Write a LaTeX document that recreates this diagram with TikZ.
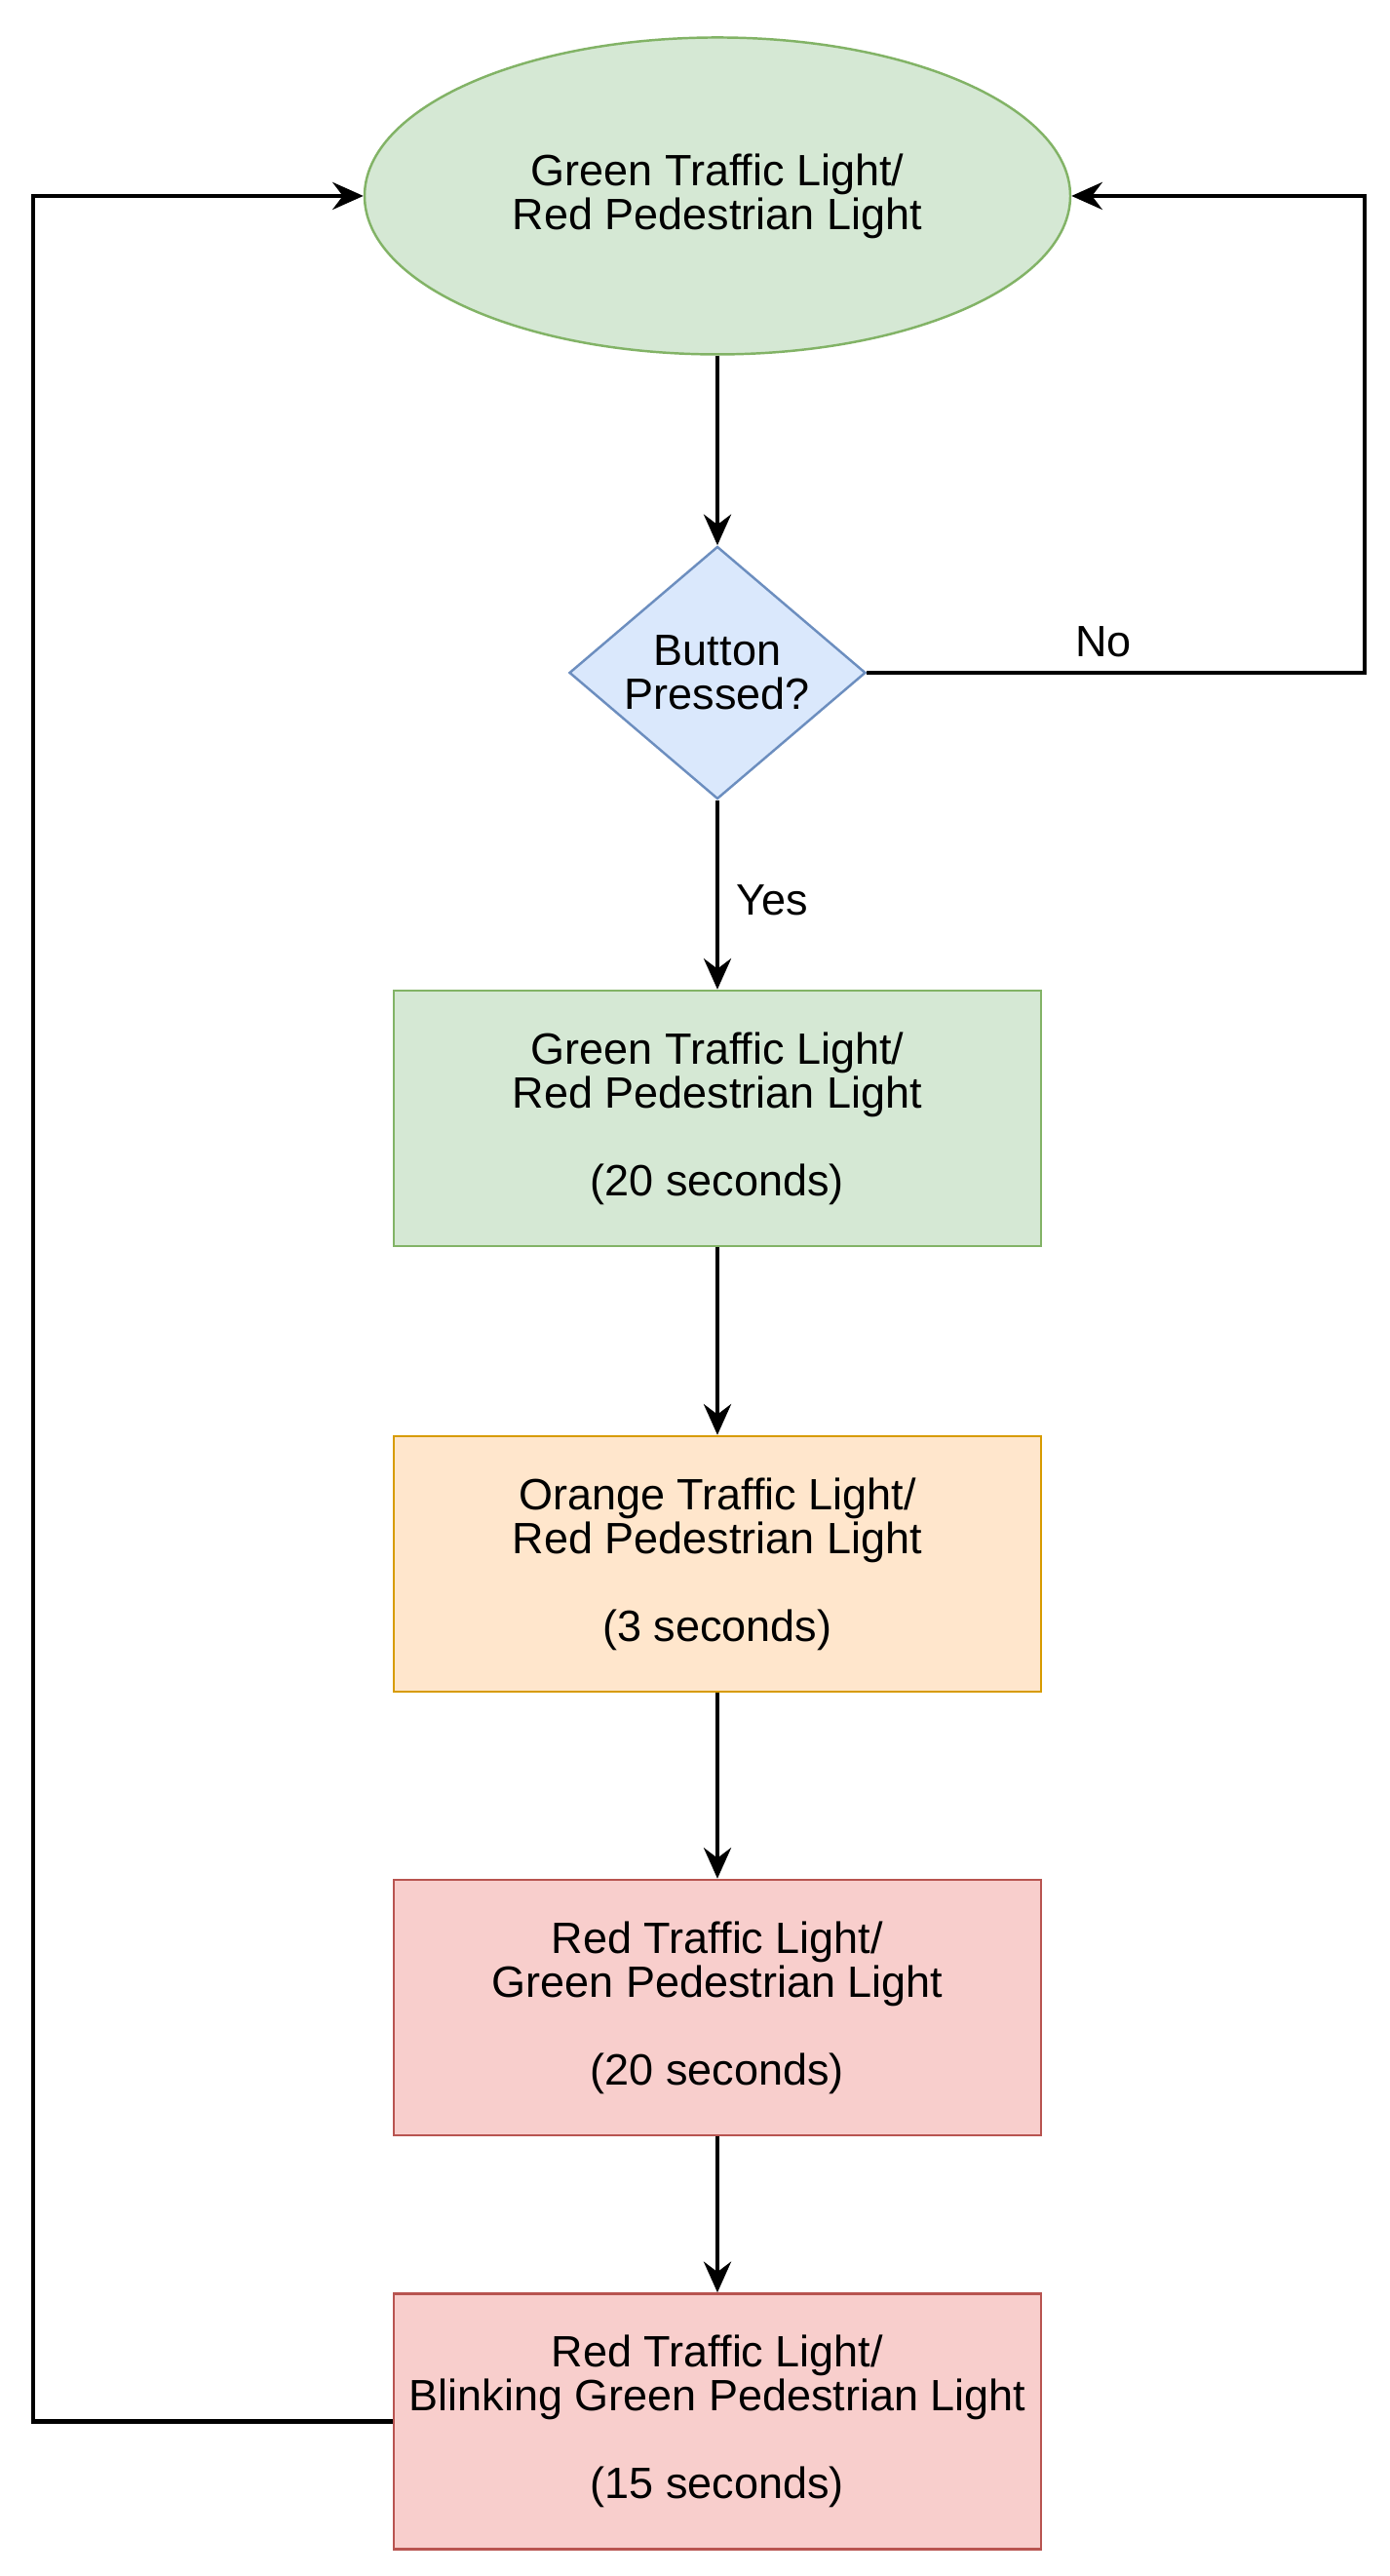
\documentclass[tikz,border=0pt]{standalone}
\usepackage{fontspec}
\setmainfont{Liberation Sans}
\usepackage{tikz}
\usetikzlibrary{shapes.geometric, arrows.meta}

\definecolor{greenfill}{HTML}{D5E8D4}
\definecolor{greenline}{HTML}{82B366}
\definecolor{bluefill}{HTML}{DAE8FC}
\definecolor{blueline}{HTML}{6C8EBF}
\definecolor{orangefill}{HTML}{FFE6CC}
\definecolor{orangeline}{HTML}{D79B00}
\definecolor{redfill}{HTML}{F8CECC}
\definecolor{redline}{HTML}{B85450}

\begin{document}
\begin{tikzpicture}[font=\fontsize{12.8}{12.8}\selectfont,
  flow/.style={draw=black, line width=1.2pt, -{Stealth[length=9pt, width=8pt, inset=3pt]}},
  oval/.style={ellipse, draw=greenline, fill=greenfill, line width=0.7pt,
    minimum width=7.24cm, minimum height=3.25cm, align=center},
  decide/.style={diamond, draw=blueline, fill=bluefill, line width=0.7pt, inner sep=0pt,
    aspect=1.17, minimum width=3.04cm, minimum height=2.59cm, align=center},
  phase/.style={rectangle, line width=0.7pt, minimum width=6.64cm, minimum height=2.62cm, align=center}]

  \useasboundingbox (0,0) rectangle (14.25,26.42);

  % --- start state and the question ---
  \node[oval] (start) at (7.36,24.41) {Green Traffic Light/\\Red Pedestrian Light};
  \node[decide] (ask) at (7.36,19.52) {Button\\Pressed?};

  % --- timed phases ---
  \node[phase, draw=greenline, fill=greenfill] (phaseA) at (7.36,14.95)
    {Green Traffic Light/\\Red Pedestrian Light\\[12.8pt](20 seconds)};
  \node[phase, draw=orangeline, fill=orangefill] (phaseB) at (7.36,10.38)
    {Orange Traffic Light/\\Red Pedestrian Light\\[12.8pt](3 seconds)};
  \node[phase, draw=redline, fill=redfill] (phaseC) at (7.36,5.83)
    {Red Traffic Light/\\Green Pedestrian Light\\[12.8pt](20 seconds)};
  \node[phase, draw=redline, fill=redfill] (phaseD) at (7.36,1.585)
    {Red Traffic Light/\\Blinking Green Pedestrian Light\\[12.8pt](15 seconds)};

  % --- straight connectors ---
  \foreach \from/\to in {start/ask, ask/phaseA, phaseA/phaseB, phaseB/phaseC, phaseC/phaseD}
    \draw[flow] (\from) -- (\to);

  \node (yes) at (7.92,17.19) {Yes};

  % --- loops back to the start ---
  \coordinate (noturn) at (14.00,19.52);
  \coordinate (backturn) at (0.34,1.585);
  \draw[flow] (ask.east) -- (noturn) |- (start.east);
  \node (no) at (11.32,19.84) {No};
  \draw[flow] (phaseD.west) -- (backturn) |- (start.west);

\end{tikzpicture}
\end{document}
